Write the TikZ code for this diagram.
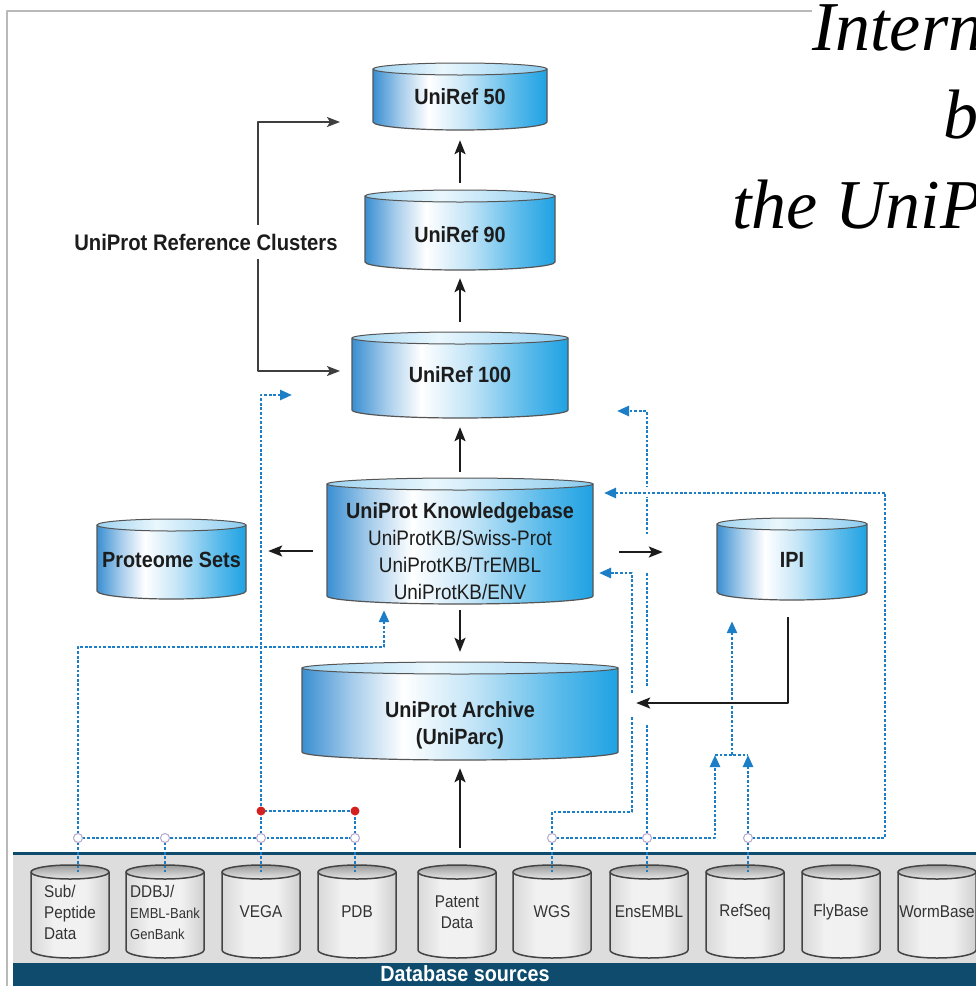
\documentclass[tikz,border=0pt]{standalone}
\usepackage{fontspec}
\setmainfont{Liberation Sans}
\newfontfamily\labfont[FakeStretch=0.9]{Liberation Sans}
\newfontfamily\titlefont{Liberation Serif}
\usetikzlibrary{arrows.meta,calc}

\definecolor{cylL}{HTML}{3A8FD2}
\definecolor{cylM}{HTML}{C4E5F7}
\definecolor{cylR}{HTML}{1FA2E3}
\definecolor{topL}{HTML}{9CD2F0}
\definecolor{topM}{HTML}{EAF7FD}
\definecolor{topR}{HTML}{8ACBEF}
\definecolor{rim}{HTML}{555555}
\definecolor{grL}{HTML}{D9D9D9}
\definecolor{grM}{HTML}{F1F1F1}
\definecolor{grR}{HTML}{D0D0D0}
\definecolor{grT}{HTML}{9A9A9A}
\definecolor{grB}{HTML}{E8E8E8}
\definecolor{dotblue}{HTML}{1B7EC6}
\definecolor{barblue}{HTML}{0E4B6D}
\definecolor{band}{HTML}{DDDDDD}
\definecolor{jrim}{HTML}{B4A7D0}
\definecolor{reddot}{HTML}{D32020}
\definecolor{ink}{HTML}{1C1C1C}
\definecolor{dbink}{HTML}{333333}

\pgfdeclarehorizontalshading{bluebody}{100bp}{color(0bp)=(cylL); color(25bp)=(cylL); color(33bp)=(cylL!45!white); color(41bp)=(white); color(52bp)=(cylM); color(66bp)=(cylR!75!white); color(75bp)=(cylR); color(100bp)=(cylR)}
\pgfdeclarehorizontalshading{bluetop}{100bp}{color(0bp)=(topL); color(25bp)=(topL); color(45bp)=(topM); color(75bp)=(topR); color(100bp)=(topR)}
\pgfdeclarehorizontalshading{graybody}{100bp}{color(0bp)=(grL); color(25bp)=(grL); color(40bp)=(grM); color(60bp)=(grM); color(75bp)=(grR); color(100bp)=(grR)}
\pgfdeclareverticalshading{graytop}{100bp}{color(0bp)=(grB); color(25bp)=(grB); color(75bp)=(grT); color(100bp)=(grT)}

\tikzset{
  cyltext/.style={font=\labfont\bfseries\fontsize{22}{27}\selectfont, text=ink, align=center, inner sep=0},
  srctext/.style={font=\labfont\fontsize{17}{21}\selectfont, text=dbink, align=center, inner sep=0},
  titletext/.style={font=\titlefont\itshape\fontsize{70}{80}\selectfont, anchor=base west, inner sep=0, fill=white},
  blk/.style={draw=ink, line width=2, -{Stealth[length=14pt, width=11pt, inset=3pt]}},
  refarr/.style={draw=ink!85, line width=1.4, -{Stealth[length=13pt, width=10pt, inset=3pt]}},
  bluedot/.style={draw=dotblue, line width=2.6, dash pattern=on 2.8pt off 1.8pt},
  bluearr/.style={bluedot, -{Triangle[length=12pt, width=10pt]}}
}
\newcommand\kbsub{\mdseries\fontsize{21}{25.5}\selectfont}
\newcommand\smallsrc{\fontsize{14.5}{19}\selectfont}

% blue cylinder: name, centre x, top, bottom, half width, text y, text
\newcommand\bluecyl[7]{%
  \shade[shading=bluebody, draw=rim, line width=1.2] (#2-#5,-#3-6) -- (#2-#5,-#4+8) arc[start angle=180, end angle=360, x radius=#5, y radius=8] -- (#2+#5,-#3-6) -- cycle;
  \shade[shading=bluetop, draw=rim, line width=1] (#2,-#3-6) ellipse[x radius=#5, y radius=6];
  \node[inner sep=0, minimum width=2*#5, minimum height=#4-#3] (#1) at (#2,-#3/2-#4/2) {};
  \node[cyltext] (#1-t) at (#2,-#6) {#7};}

% grey source cylinder: [text options] name, centre x, text
\newcommand\srccyl[4][]{%
  \shade[shading=graybody, draw=rim!80!black, line width=1.5] (#3-39,-872) -- (#3-39,-950) arc[start angle=180, end angle=360, x radius=39, y radius=8] -- (#3+39,-872) -- cycle;
  \shade[shading=graytop, draw=rim!80!black, line width=1.5] (#3,-872) ellipse[x radius=39, y radius=7];
  \node[inner sep=0, minimum width=78, minimum height=93] (#2) at (#3,-911.5) {};
  \node[srctext, #1] (#2-t) at (#3,-912) {#4};}

\begin{document}
\begin{tikzpicture}[x=1pt, y=1pt, line join=round]
\useasboundingbox (0,0) rectangle (976,-986);
\clip (0,0) rectangle (976,-986);
\fill[white] (0,0) rectangle (976,-986);
\draw[gray!55, line width=2] (7,-986) -- (7,-11) -- (976,-11);

% sources band
\fill[band] (13,-855) rectangle (976,-963);
\draw[barblue, line width=3] (13,-853.5) -- (976,-853.5);
\fill[barblue] (13,-963) rectangle (976,-986);
\node[font=\labfont\bfseries\fontsize{22}{26}\selectfont, text=white, inner sep=0] (dbs) at (465,-974) {Database sources};

% databases
\bluecyl{u50}{460}{63}{130}{87}{97}{UniRef 50}
\bluecyl{u90}{460}{190}{270}{95}{235}{UniRef 90}
\bluecyl{u100}{460}{332}{418}{108}{375}{UniRef 100}
\bluecyl{kb}{460}{478}{604}{133}{551}{UniProt Knowledgebase\\\kbsub UniProtKB/Swiss-Prot\\\kbsub UniProtKB/TrEMBL\\\kbsub UniProtKB/ENV}
\bluecyl{arch}{460}{662}{760}{158}{725}{UniProt Archive\\(UniParc)}
\bluecyl{prot}{171.5}{519}{599}{74.5}{560}{Proteome Sets}
\bluecyl{ipi}{792}{518}{600}{75}{560}{IPI}

\srccyl[align=left]{sub}{70}{Sub/\\Peptide\\Data}
\srccyl[align=left]{ddbj}{165}{DDBJ/\\\smallsrc EMBL-Bank\\\smallsrc GenBank}
\srccyl{patent}{457}{Patent\\Data}
\foreach \n/\x/\t in {vega/261/VEGA, pdb/357/PDB, wgs/552/WGS, ens/649/EnsEMBL, refseq/745/RefSeq, fly/841/FlyBase, worm/937/WormBase}{\srccyl{\n}{\x}{\t}}

\path (258,-242) coordinate (brk) (340,-122) coordinate (to50) (340,-371) coordinate (to100)
  (78,-838) coordinate (jsub) (165,-838) coordinate (jddbj) (261,-838) coordinate (jvega) (355,-838) coordinate (jpdb)
  (552,-838) coordinate (jwgs) (647,-838) coordinate (jens) (748,-838) coordinate (jref)
  (261,-811) coordinate (rv) (355,-811) coordinate (rp)
  (384,-647) coordinate (subkb) (292,-395) coordinate (vegaref)
  (632,-812) coordinate (wgsbend) (599,-573) coordinate (wgskb)
  (617,-411) coordinate (ensref) (885,-493) coordinate (refbend) (604,-493) coordinate (refkb)
  (715,-755) coordinate (ipil) (748,-755) coordinate (ipir) (732,-755) coordinate (ipim);

% dotted feeds
\draw[bluedot] (jsub) -- (jddbj) -- (jvega) -- (jpdb);
\foreach \j/\d in {jsub/sub, jddbj/ddbj, jvega/vega, jpdb/pdb, jwgs/wgs, jens/ens, jref/refseq}
  \draw[bluedot, shorten >=-7pt] (\j) -- (\j |- \d.north);
\draw[bluearr, shorten >=6pt] (jsub) |- (subkb) -- (subkb |- kb.south);
\draw[bluearr] (jvega) |- (vegaref);
\draw[bluedot] (jpdb) -- (rp) -- (rv);
\draw[bluearr] (jwgs) -- (jens) -| (ipil);
\draw[bluearr] (jref) -- (ipir);
\draw[bluedot] (ipil) -- (ipir);
\draw[bluearr, shorten >=21pt] (ipim) -- (ipim |- ipi.south);
\draw[bluearr] (jwgs) |- (wgsbend) |- (wgskb);
\draw[bluearr] (jens) |- (ensref);
\foreach \x/\y/\h in {647/553/37, 647/705/35, 632/705/24, 647/492/10}
  \fill[white] (\x-4,-\y-\h/2) rectangle (\x+4,-\y+\h/2);
\draw[bluedot, line width=2] (jref) -| (refbend);
\draw[bluearr] (refbend) -- (refkb);

% main flow
\draw[blk, shorten <=7pt, shorten >=10pt] (u90) -- (u50);
\draw[blk, shorten <=10pt, shorten >=8pt] (u100) -- (u90);
\draw[blk, shorten <=6pt, shorten >=9pt] (kb) -- (u100);
\draw[blk, shorten <=6pt, shorten >=10pt] (kb) -- (arch);
\draw[blk, shorten <=17pt, shorten >=8pt] (arch.south |- patent.north) -- (arch.south);
\draw[blk] ($(kb.west)+(-14,-10)$) -- ($(prot.east)+(22,8)$);
\draw[blk] ($(kb.east)+(26,-11)$) -- ($(ipi.west)+(-54,7)$);
\draw[blk] ($(ipi.south)+(-4,-17)$) |- ($(arch.east)+(18,8)$);

\draw[refarr] (brk) |- (to50);
\draw[refarr] (brk) |- (to100);
\node[font=\labfont\bfseries\fontsize{22.5}{26}\selectfont, text=ink, fill=white, inner xsep=2, inner ysep=9] (clusters) at (206,-242) {UniProt Reference Clusters};

\foreach \j in {jsub,jddbj,jvega,jpdb,jwgs,jens,jref} \draw[jrim, fill=white, line width=1] (\j) circle (4.5);
\foreach \j in {rv,rp} \fill[reddot] (\j) circle (4.5);

% title, cut at the edge
\node[titletext] (t1) at (812,-50) {Intern};
\node[titletext] (t2) at (943,-138) {b};
\node[titletext] (t3) at (732,-228) {the UniP};
\end{tikzpicture}
\end{document}
